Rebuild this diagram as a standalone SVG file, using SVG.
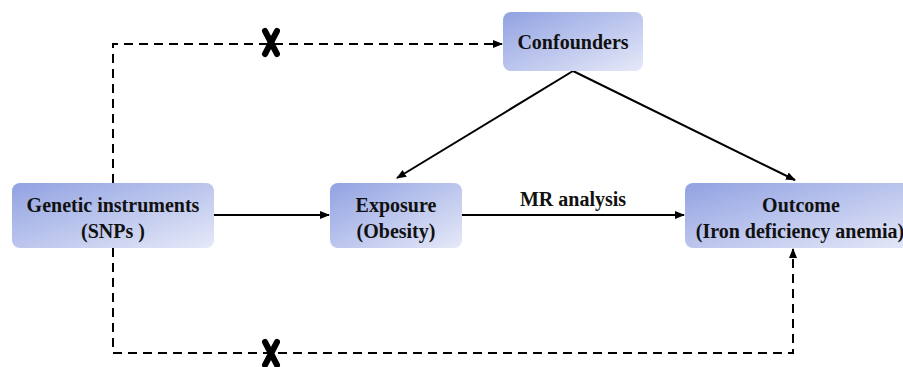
<svg xmlns="http://www.w3.org/2000/svg" width="903" height="367" viewBox="0 0 903 367">
<defs>
<linearGradient id="g" x1="0" y1="0" x2="1" y2="1">
<stop offset="0" stop-color="#91a2e2"/>
<stop offset="1" stop-color="#e6e9f8"/>
</linearGradient>
<marker id="ah" viewBox="0 0 10 10" refX="9" refY="5" markerWidth="10" markerHeight="10" markerUnits="userSpaceOnUse" orient="auto">
<path d="M0,1 L10,5 L0,9 Z" fill="#000"/>
</marker>
</defs>
<style>
.box{fill:url(#g);}
text{font-family:'Liberation Serif','Times New Roman',serif;font-weight:bold;font-size:20px;fill:#111;text-anchor:middle;}
.s{stroke:#000;stroke-width:2;fill:none;}
.d{stroke:#000;stroke-width:2;fill:none;stroke-dasharray:9,6;}
.x{stroke:#000;stroke-width:6;stroke-linecap:round;}
</style>
<g id="connectors">
<line class="s" x1="214" y1="215" x2="329" y2="215" marker-end="url(#ah)"/>
<line class="s" x1="462" y1="215" x2="684" y2="215" marker-end="url(#ah)"/>
<line class="s" x1="573" y1="71" x2="397" y2="178" marker-end="url(#ah)"/>
<line class="s" x1="573" y1="71" x2="795" y2="180" marker-end="url(#ah)"/>
<polyline class="d" points="113,183 113,44 502,44" marker-end="url(#ah)"/>
<polyline class="d" points="113,248 113,353 793,353 793,249" marker-end="url(#ah)"/>
<text font-family="Liberation Serif, serif" x="573" y="206">MR analysis</text>
<g id="x1"><line class="x" x1="265" y1="31" x2="277" y2="54"/><line class="x" x1="277" y1="31" x2="265" y2="54"/></g>
<g id="x2"><line class="x" x1="265" y1="342" x2="277" y2="365"/><line class="x" x1="277" y1="342" x2="265" y2="365"/></g>
</g>
<g id="genetic">
<rect class="box" x="12" y="183" width="202" height="65" rx="8"/>
<text font-family="Liberation Serif, serif" x="113" y="212">Genetic instruments</text>
<text font-family="Liberation Serif, serif" x="113" y="238">(SNPs )</text>
</g>
<g id="confounders">
<rect class="box" x="503" y="12" width="140" height="59" rx="8"/>
<text font-family="Liberation Serif, serif" x="573" y="49">Confounders</text>
</g>
<g id="exposure">
<rect class="box" x="330" y="183" width="132" height="65" rx="8"/>
<text font-family="Liberation Serif, serif" x="396" y="212">Exposure</text>
<text font-family="Liberation Serif, serif" x="396" y="238">(Obesity)</text>
</g>
<g id="outcome">
<rect class="box" x="685" y="183" width="232" height="65" rx="8"/>
<text font-family="Liberation Serif, serif" x="801" y="212">Outcome</text>
<text font-family="Liberation Serif, serif" x="800" y="238">(Iron deficiency anemia)</text>
</g>
</svg>
